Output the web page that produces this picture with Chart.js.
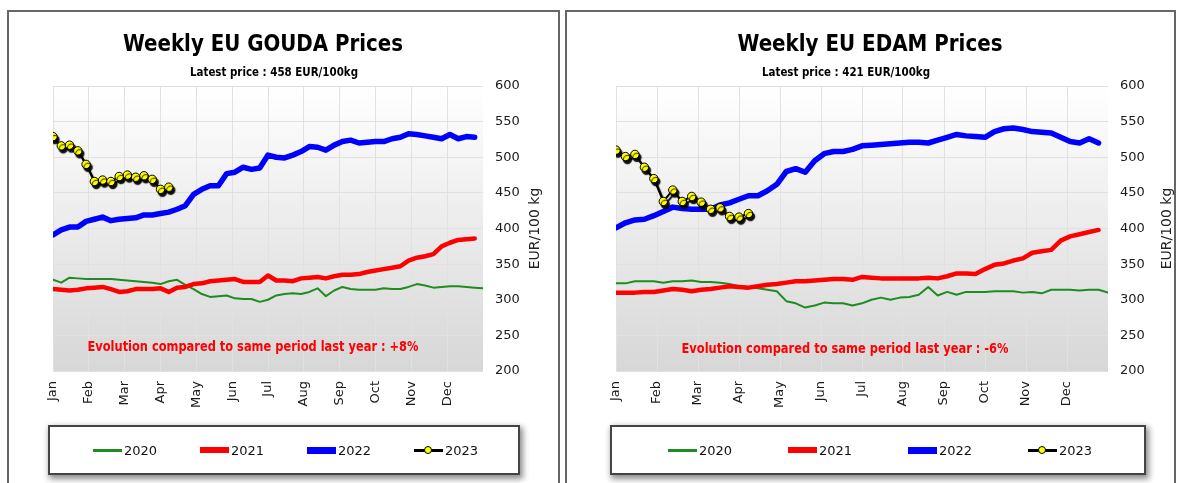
<!DOCTYPE html>
<html>
<head>
<meta charset="utf-8">
<script src="https://cdn.jsdelivr.net/npm/chart.js@4.4.0/dist/chart.umd.min.js"></script>
<style>
  body { margin: 0; width: 1181px; height: 483px; background: #fff; position: relative; overflow: hidden; font-family: 'DejaVu Sans', sans-serif; }
  .panel { position: absolute; top: 10px; height: 490px; border: 2px solid #666; box-sizing: border-box; background: #fff; }
  #panelGouda { left: 7px; width: 553px; }
  #panelEdam { left: 565px; width: 611px; }
  canvas { position: absolute; top: 0; }
  #goudaChart { left: 0; }
  #edamChart { left: 563px; }
  .legend { position: absolute; top: 425px; height: 50px; border: 2px solid #444; background: #fff;
            box-shadow: 2px 3px 6px 1px rgba(0,0,0,.45); box-sizing: border-box; }
  #legendGouda { left: 48px; width: 472px; }
  #legendEdam { left: 610px; width: 536px; }
  .item { position: absolute; top: 0; height: 46px; display: flex; align-items: center; font-size: 13px; color: #111; }
  .swatch { position: relative; width: 29px; margin-right: 2px; }
  .dot { position: absolute; left: 10px; width: 8px; height: 8px; border-radius: 50%; background: #ffff00; border: 1px solid #000; box-sizing: border-box; }
</style>
</head>
<body>
<div class="panel" id="panelGouda"></div>
<div class="panel" id="panelEdam"></div>
<canvas id="goudaChart" width="562" height="420"></canvas>
<canvas id="edamChart" width="618" height="420"></canvas>
<div class="legend" id="legendGouda"></div>
<div class="legend" id="legendEdam"></div>
<script>
// categories
const months = ['Jan', 'Feb', 'Mar', 'Apr', 'May', 'Jun', 'Jul', 'Aug', 'Sep', 'Oct', 'Nov', 'Dec'];
const years = ['2020', '2021', '2022', '2023'];

// weekly GOUDA prices, EUR/100kg
const gouda2020 = [328, 324, 331, 330, 329, 329, 329, 329, 328, 327, 326, 325, 324, 322, 326, 328, 321, 315, 308, 304,
  305, 306, 302, 301, 301, 297, 300, 306, 308, 309, 308, 311, 316, 305, 313, 318, 315, 314, 314, 314,
  316, 315, 315, 318, 322, 320, 317, 318, 319, 319, 318, 317, 316];
const gouda2021 = [315, 314, 313, 314, 316, 317, 318, 315, 311, 312, 315, 315, 315, 316, 311, 317, 318, 322, 323, 326,
  327, 328, 329, 325, 325, 325, 334, 327, 327, 326, 330, 331, 332, 330, 333, 335, 335, 336, 339, 341,
  343, 345, 347, 355, 359, 361, 364, 375, 380, 384, 385, 386];
const gouda2022 = [391, 398, 402, 402, 410, 413, 416, 411, 413, 414, 415, 419, 419, 421, 423, 427, 432, 448, 455, 460,
  460, 477, 479, 486, 483, 485, 503, 500, 499, 503, 508, 515, 514, 510, 517, 522, 524, 520, 521, 522,
  522, 526, 528, 533, 532, 530, 528, 526, 532, 526, 529, 528];
const gouda2023 = [529, 516, 517, 509, 490, 466, 468, 466, 473, 475, 472, 474, 469, 455, 458];

// weekly EDAM prices, EUR/100kg
const edam2020 = [323, 323, 326, 326, 326, 324, 326, 326, 327, 325, 325, 324, 322, 319, 318, 316, 314, 312, 298, 295,
  289, 292, 296, 295, 295, 292, 295, 300, 303, 300, 303, 304, 307, 318, 306, 311, 307, 311, 311, 311,
  312, 312, 312, 310, 311, 309, 314, 314, 314, 313, 314, 314, 310];
const edam2021 = [310, 310, 310, 311, 311, 313, 315, 314, 312, 314, 315, 317, 319, 318, 317, 319, 321, 322, 324, 326,
  326, 327, 328, 329, 329, 328, 332, 331, 330, 330, 330, 330, 330, 331, 330, 333, 337, 337, 336, 343,
  349, 351, 355, 358, 366, 368, 370, 383, 389, 392, 395, 398];
const edam2022 = [401, 408, 412, 413, 418, 424, 430, 428, 427, 427, 427, 433, 436, 441, 446, 446, 453, 462, 480, 484,
  479, 495, 505, 508, 508, 511, 516, 517, 518, 519, 520, 521, 521, 520, 524, 528, 532, 530, 529, 528,
  536, 540, 541, 539, 536, 535, 534, 528, 522, 520, 526, 520];
const edam2023 = [510, 501, 504, 486, 470, 438, 454, 438, 445, 437, 427, 429, 417, 416, 421];

const lineColors = ['#1e8c1e', '#ff0000', '#0000ff', '#000000'];
const lineWidths = [2, 4.5, 5.5, 2];

const titleFont = "'DejaVu Sans Condensed', 'Liberation Sans Narrow', 'DejaVu Sans', sans-serif";

// gradient behind the plot
const plotBackground = {
  id: 'plotBackground',
  beforeDraw(chart) {
    const { ctx, chartArea: { left, top, right, bottom } } = chart;
    const g = ctx.createLinearGradient(0, top, 0, bottom);
    g.addColorStop(0, '#ffffff');
    g.addColorStop(1, '#d7d7d7');
    ctx.save();
    ctx.fillStyle = g;
    ctx.fillRect(left, top, right - left, bottom - top);
    ctx.restore();
  }
};

// dark drop shadow under the 2023 markers
const markerShadow = {
  id: 'markerShadow',
  beforeDatasetDraw(chart, args) {
    if (!chart.data.datasets[args.index].shadow) return;
    const ctx = chart.ctx;
    ctx.save();
    ctx.shadowColor = 'rgba(0,0,0,0.95)';
    ctx.shadowOffsetX = 2;
    ctx.shadowOffsetY = 3;
    ctx.shadowBlur = 1;
  },
  afterDatasetDraw(chart, args) {
    if (chart.data.datasets[args.index].shadow) chart.ctx.restore();
  }
};

// squeeze a line of text into the width it takes in the original
function fitText(ctx, text, x, y, width) {
  const w = ctx.measureText(text).width;
  const k = w > width ? width / w : 1;
  ctx.save();
  ctx.translate(x, y);
  ctx.scale(k, 1);
  ctx.fillText(text, 0, 0);
  ctx.restore();
}

// titles, note and unit label
const headings = {
  id: 'headings',
  afterDraw(chart, args, opts) {
    const { ctx, chartArea } = chart;
    ctx.save();
    ctx.textAlign = 'center';
    ctx.textBaseline = 'middle';
    ctx.fillStyle = '#000';
    ctx.font = 'bold 23px ' + titleFont;
    fitText(ctx, opts.title, opts.titleX, 45, opts.titleW);
    ctx.font = 'bold 12px ' + titleFont;
    fitText(ctx, opts.subtitle, opts.subtitleX, 73, 168);
    ctx.fillStyle = '#ff0000';
    ctx.font = 'bold 14px ' + titleFont;
    fitText(ctx, opts.note, opts.noteX, opts.noteY, opts.noteW);
    ctx.translate(chartArea.right + opts.unitOffset, (chartArea.top + chartArea.bottom) / 2);
    ctx.rotate(-Math.PI / 2);
    ctx.fillStyle = '#222';
    ctx.font = "14px 'DejaVu Sans'";
    ctx.fillText(opts.unit, 0, 0);
    ctx.restore();
  }
};

function weekPoints(values) {
  return values.map((v, i) => ({ x: i + 1, y: v }));
}

function drawPrices(canvasId, series, text, padRight) {
  const datasets = series.map((values, i) => ({
    label: years[i],
    data: weekPoints(values),
    borderColor: lineColors[i],
    borderWidth: lineWidths[i],
    borderJoinStyle: 'round',
    borderCapStyle: 'round',
    pointRadius: 0,
    order: 3 - i
  }));
  Object.assign(datasets[3], {
    pointRadius: 4.2,
    pointBackgroundColor: '#ffff00',
    pointBorderColor: '#000',
    pointBorderWidth: 1,
    shadow: true
  });

  const tickFont = { family: 'DejaVu Sans', size: 13 };

  return new Chart(document.getElementById(canvasId), {
    type: 'line',
    data: { datasets },
    plugins: [plotBackground, markerShadow, headings],
    options: {
      responsive: false,
      animation: false,
      layout: { padding: { left: 53, top: 86, right: padRight, bottom: 9 } },
      plugins: {
        legend: { display: false },
        tooltip: { enabled: false },
        headings: text
      },
      scales: {
        x: {
          type: 'linear',
          min: 1,
          max: 53,
          afterBuildTicks: axis => {
            axis.ticks = months.map((m, i) => ({ value: 1 + i * 52 / 12 }));
          },
          afterFit: axis => { axis.height = 40; },
          ticks: {
            autoSkip: false,
            minRotation: 90,
            maxRotation: 90,
            padding: 10,
            color: '#1a1a1a',
            font: tickFont,
            callback: (v, i) => months[i]
          },
          grid: { color: '#e1e1e1', drawTicks: false },
          border: { display: false }
        },
        y: {
          position: 'right',
          min: 200,
          max: 600,
          afterFit: axis => { axis.width = 60; },
          ticks: { stepSize: 50, padding: 12, color: '#1a1a1a', font: tickFont },
          grid: { color: '#e1e1e1', drawTicks: false },
          border: { display: false }
        }
      }
    }
  });
}

drawPrices('goudaChart', [gouda2020, gouda2021, gouda2022, gouda2023], {
  title: 'Weekly EU GOUDA Prices',
  subtitle: 'Latest price : 458 EUR/100kg',
  note: 'Evolution compared to same period last year : +8%',
  unit: 'EUR/100 kg',
  titleX: 263, titleW: 280, subtitleX: 274, noteX: 253, noteY: 347, noteW: 331, unitOffset: 52
}, 19);

drawPrices('edamChart', [edam2020, edam2021, edam2022, edam2023], {
  title: 'Weekly EU EDAM Prices',
  subtitle: 'Latest price : 421 EUR/100kg',
  note: 'Evolution compared to same period last year : -6%',
  unit: 'EUR/100 kg',
  titleX: 307, titleW: 265, subtitleX: 283, noteX: 282, noteY: 349, noteW: 327, unitOffset: 59
}, 13);

// legend boxes under each chart
function buildLegend(id, firstX, step) {
  const box = document.getElementById(id);
  years.forEach((year, i) => {
    const item = document.createElement('div');
    item.className = 'item';
    item.style.left = (firstX + i * step) + 'px';
    const swatch = document.createElement('span');
    swatch.className = 'swatch';
    swatch.style.height = Math.max(3, Math.round(lineWidths[i] + 1)) + 'px';
    swatch.style.background = lineColors[i];
    if (i === 3) {
      const dot = document.createElement('span');
      dot.className = 'dot';
      dot.style.top = '-2.5px';
      swatch.appendChild(dot);
    }
    item.appendChild(swatch);
    item.appendChild(document.createTextNode(year));
    box.appendChild(item);
  });
}

buildLegend('legendGouda', 43, 107);
buildLegend('legendEdam', 56, 120);
</script>
</body>
</html>
